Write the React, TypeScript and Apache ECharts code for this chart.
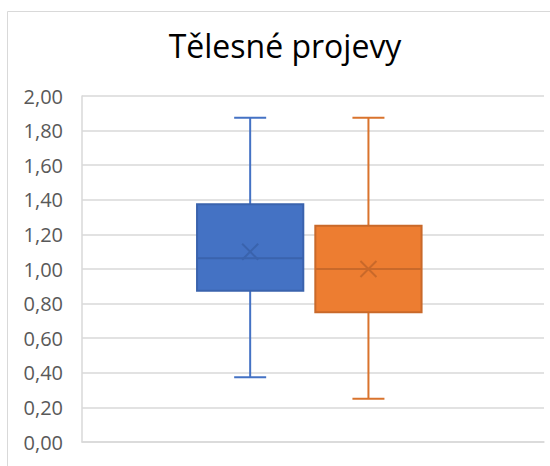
import React, { useEffect, useRef } from "react";
import * as echarts from "echarts";

const TITLE = "Tělesné projevy";
const CATEGORIES = [""];
const SERIES_NAMES = ["Skupina 1", "Skupina 2"];
// [min, Q1, median, Q3, max, mean]
const BLUE_STATS = [0.375, 0.875, 1.0625, 1.375, 1.875, 1.1];
const ORANGE_STATS = [0.25, 0.75, 1.0, 1.25, 1.875, 1.0];
const Y_MIN = 0;
const Y_MAX = 2;
const Y_STEP = 0.2;

const COLORS = [
  { fill: "#4472C4", line: "#3A63AD", whisker: "#4472C4" },
  { fill: "#ED7D31", line: "#C9692A", whisker: "#D9732D" },
];
// box centre as fraction of category band, box width fraction
const OFFSETS = [0.364, 0.62];
const BOX_FRAC = 0.23;
const CAP_W = 32;
const X_SIZE = 8;

function makeRender(idx: number) {
  return (params: any, api: any) => {
    const c = api.coord([0, 0]);
    const band = api.size([1, 0])[0];
    const start = c[0] - band / 2;
    const cx = start + OFFSETS[idx] * band;
    const bw = BOX_FRAC * band;
    const y = (v: number) => api.coord([0, v])[1];
    const mn = y(api.value(1));
    const q1 = y(api.value(2));
    const md = y(api.value(3));
    const q3 = y(api.value(4));
    const mx = y(api.value(5));
    const me = y(api.value(6));
    const col = COLORS[idx];
    return {
      type: "group",
      children: [
        { type: "line", shape: { x1: cx, y1: q3, x2: cx, y2: mx }, style: { stroke: col.whisker, lineWidth: 2 } },
        { type: "line", shape: { x1: cx - CAP_W / 2, y1: mx, x2: cx + CAP_W / 2, y2: mx }, style: { stroke: col.whisker, lineWidth: 2 } },
        { type: "line", shape: { x1: cx, y1: q1, x2: cx, y2: mn }, style: { stroke: col.whisker, lineWidth: 2 } },
        { type: "line", shape: { x1: cx - CAP_W / 2, y1: mn, x2: cx + CAP_W / 2, y2: mn }, style: { stroke: col.whisker, lineWidth: 2 } },
        { type: "rect", shape: { x: cx - bw / 2, y: q3, width: bw, height: q1 - q3 }, style: { fill: col.fill, stroke: col.line, lineWidth: 2 } },
        { type: "line", shape: { x1: cx - bw / 2, y1: md, x2: cx + bw / 2, y2: md }, style: { stroke: col.line, lineWidth: 2 } },
        { type: "line", shape: { x1: cx - X_SIZE, y1: me - X_SIZE, x2: cx + X_SIZE, y2: me + X_SIZE }, style: { stroke: col.line, lineWidth: 2 } },
        { type: "line", shape: { x1: cx - X_SIZE, y1: me + X_SIZE, x2: cx + X_SIZE, y2: me - X_SIZE }, style: { stroke: col.line, lineWidth: 2 } },
      ],
    };
  };
}

export default function App() {
  const ref = useRef<HTMLDivElement>(null);
  useEffect(() => {
    if (!ref.current) return;
    const chart = echarts.init(ref.current, undefined, { renderer: "svg" });
    chart.setOption({
      animation: false,
      backgroundColor: "#ffffff",
      textStyle: { fontFamily: "Open Sans" },
      grid: { left: 82, right: 6, top: 96, bottom: 24 },
      graphic: [
        {
          type: "rect",
          shape: { x: 7.5, y: 11.5, width: 600, height: 600 },
          style: { fill: "none", stroke: "#D9D9D9", lineWidth: 1 },
          silent: true,
          z: -1,
        },
        {
          type: "text",
          x: 285,
          y: 29,
          style: {
            text: TITLE,
            fill: "#000000",
            font: "32px 'Open Sans'",
            textAlign: "center",
            textVerticalAlign: "top",
          },
        },
      ],
      xAxis: {
        type: "category",
        data: CATEGORIES,
        axisLine: { show: true, lineStyle: { color: "#D9D9D9", width: 1.5 } },
        axisTick: { show: false },
        axisLabel: { show: false },
      },
      yAxis: {
        type: "value",
        min: Y_MIN,
        max: Y_MAX,
        interval: Y_STEP,
        axisLine: { show: true, lineStyle: { color: "#D9D9D9", width: 1.5 } },
        axisTick: { show: false },
        splitLine: { show: true, lineStyle: { color: "#D9D9D9", width: 1.5 } },
        axisLabel: {
          color: "#595959",
          fontSize: 20,
          fontFamily: "Open Sans",
          margin: 19,
          formatter: (v: number) => v.toFixed(2).replace(".", ","),
        },
      },
      series: [
        {
          type: "custom",
          name: SERIES_NAMES[0],
          renderItem: makeRender(0),
          data: [[0, ...BLUE_STATS]],
          encode: { x: 0, y: [1, 2, 3, 4, 5, 6] },
        },
        {
          type: "custom",
          name: SERIES_NAMES[1],
          renderItem: makeRender(1),
          data: [[0, ...ORANGE_STATS]],
          encode: { x: 0, y: [1, 2, 3, 4, 5, 6] },
        },
      ],
    });
    return () => chart.dispose();
  }, []);
  return (
    <div
      ref={ref}
      style={{ position: "fixed", left: 0, top: 0, width: 550, height: 466 }}
    />
  );
}
